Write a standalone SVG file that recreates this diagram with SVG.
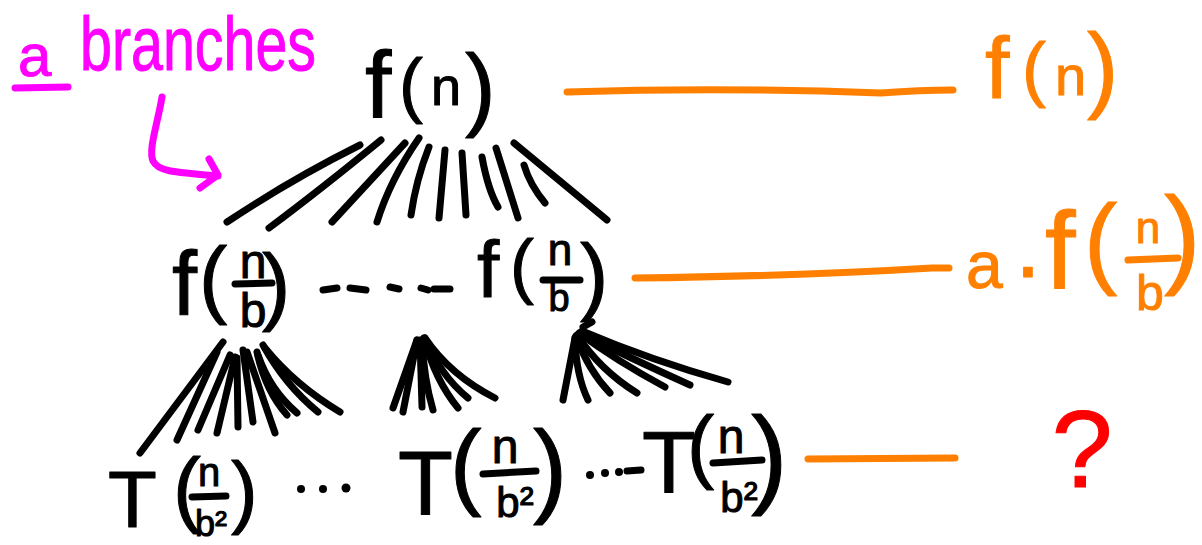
<svg xmlns="http://www.w3.org/2000/svg" width="1202" height="545" viewBox="0 0 1202 545">
<style>
.ink{fill:none;stroke:#000;stroke-width:7;stroke-linecap:round;stroke-linejoin:round}
.or{fill:none;stroke:#ff8000;stroke-width:7;stroke-linecap:round;stroke-linejoin:round}
.mg{fill:none;stroke:#ff00ff;stroke-width:7;stroke-linecap:round;stroke-linejoin:round}
text{font-family:"Liberation Sans",Arial,sans-serif;stroke-linejoin:round;stroke-width:1}
.tb{fill:#000;stroke:#000}
.to{fill:#ff8000;stroke:#ff8000}
.tm{fill:#ff00ff;stroke:#ff00ff}
.tr{fill:#ff0000;stroke:#ff0000}
.c{text-anchor:middle}
.dot{fill:#000}
</style>
<rect width="1202" height="545" fill="#fff"/>

<g id="annotation-branches">
  <text class="tm"><tspan x="18" y="76" font-size="60">a</tspan><tspan x="80" y="70" font-size="76" textLength="236" lengthAdjust="spacingAndGlyphs">branches</tspan></text>
  <line class="mg" x1="15" y1="88" x2="68" y2="87"/>
  <path class="mg" d="M162,97 C158,122 148,150 153,161 C158,171 170,172 218,176 M209,159 L218,175 L200,188"/>
</g>

<g id="node-root">
  <text class="tb"><tspan x="365" y="118" font-size="95">f</tspan><tspan x="399" y="109" font-size="72">(</tspan><tspan x="431" y="105" font-size="54">n</tspan><tspan x="465" y="119" font-size="92">)</tspan></text>
</g>

<g id="node-l2-left">
  <text class="tb"><tspan x="172" y="315" font-size="90">f</tspan><tspan x="199" y="307" font-size="85">(</tspan><tspan class="c" x="253" y="278" font-size="48">n</tspan><tspan class="c" x="253" y="327" font-size="48">b</tspan><tspan x="262" y="314" font-size="85">)</tspan></text>
  <line class="ink" x1="235" y1="284" x2="272" y2="283"/>
</g>

<g id="dashes-l2">
  <path class="ink" d="M323,290 L337,288 M350,288 L366,290 M390,287 L399,289 M421,288 L428,290 M434,289 L450,289"/>
</g>

<g id="node-l2-right">
  <text class="tb"><tspan x="477" y="297" font-size="80">f</tspan><tspan x="510" y="290" font-size="72">(</tspan><tspan class="c" x="560" y="265" font-size="44">n</tspan><tspan class="c" x="559" y="311" font-size="38">b</tspan><tspan x="580" y="304" font-size="85">)</tspan></text>
  <line class="ink" x1="543" y1="280" x2="580" y2="280"/>
</g>

<g id="node-l3-1">
  <text class="tb"><tspan x="108" y="527" font-size="80">T</tspan><tspan x="173" y="517" font-size="84">(</tspan><tspan class="c" x="209" y="486" font-size="40">n</tspan><tspan class="c" x="211" y="536" font-size="36">b²</tspan><tspan x="231" y="518" font-size="80">)</tspan></text>
  <line class="ink" x1="192" y1="497" x2="226" y2="496"/>
</g>

<g id="dots-l3-a">
  <circle class="dot" cx="301" cy="489" r="4"/>
  <circle class="dot" cx="323" cy="489" r="4"/>
  <circle class="dot" cx="346" cy="488" r="4.5"/>
</g>

<g id="node-l3-2">
  <text class="tb"><tspan x="398" y="515" font-size="90">T</tspan><tspan x="450" y="497" font-size="95">(</tspan><tspan class="c" x="505" y="463" font-size="48">n</tspan><tspan class="c" x="515" y="517" font-size="42">b²</tspan><tspan x="533" y="503" font-size="103">)</tspan></text>
  <line class="ink" x1="483" y1="474" x2="536" y2="471"/>
</g>

<g id="dots-l3-b">
  <circle class="dot" cx="590" cy="475" r="4"/>
  <circle class="dot" cx="605" cy="473" r="4"/>
  <circle class="dot" cx="619" cy="472" r="4"/>
  <line class="ink" x1="627" y1="471" x2="641" y2="470"/>
</g>

<g id="node-l3-3">
  <text class="tb"><tspan x="642" y="492" font-size="88">T</tspan><tspan x="687" y="473" font-size="82">(</tspan><tspan class="c" x="731" y="453" font-size="48">n</tspan><tspan class="c" x="739" y="512" font-size="42">b²</tspan><tspan x="751" y="493" font-size="110">)</tspan></text>
  <line class="ink" x1="713" y1="463" x2="762" y2="460"/>
</g>

<g id="sum-level0">
  <text class="to"><tspan x="985" y="98" font-size="88">f</tspan><tspan x="1022" y="93" font-size="72">(</tspan><tspan x="1055" y="95" font-size="56">n</tspan><tspan x="1087" y="100" font-size="94">)</tspan></text>
</g>

<g id="sum-level1">
  <text class="to"><tspan x="966" y="288" font-size="66">a</tspan><tspan x="1013" y="297" font-size="90">·</tspan><tspan x="1045" y="288" font-size="110">f</tspan><tspan x="1084" y="275" font-size="100">(</tspan><tspan class="c" x="1148" y="243" font-size="44">n</tspan><tspan class="c" x="1150" y="310" font-size="50">b</tspan><tspan x="1164" y="273" font-size="110">)</tspan></text>
  <line class="or" x1="1128" y1="260" x2="1178" y2="258"/>
</g>

<g id="sum-level2">
  <text class="tr c" x="1082" y="487" font-size="110">?</text>
</g>

<g id="connectors">
  <g id="fan-root">
    <path class="ink" d="M360,145 Q290,180 227,222"/>
    <path class="ink" d="M381,140 Q320,190 269,228"/>
    <path class="ink" d="M405,143 L332,222"/>
    <path class="ink" d="M419,138 Q390,180 377,222"/>
    <path class="ink" d="M429,147 Q416,180 411,215"/>
    <path class="ink" d="M445,150 L439,218"/>
    <path class="ink" d="M462,153 L466,215"/>
    <path class="ink" d="M482,157 Q488,190 498,207"/>
    <path class="ink" d="M496,148 L518,218"/>
    <path class="ink" d="M514,143 L607,220"/>
    <path class="ink" d="M524,165 Q530,185 545,203"/>
  </g>
  <g id="fan-left">
    <path class="ink" d="M223,342 L140,453"/>
    <path class="ink" d="M217,352 L177,440"/>
    <path class="ink" d="M230,355 L198,430"/>
    <path class="ink" d="M235,357 L217,433"/>
    <path class="ink" d="M237,358 L238,427"/>
    <path class="ink" d="M243,350 L253,422"/>
    <path class="ink" d="M247,352 L275,433"/>
    <path class="ink" d="M257,352 Q265,390 287,415"/>
    <path class="ink" d="M258,355 Q270,390 297,413"/>
    <path class="ink" d="M263,345 Q285,385 318,412"/>
    <path class="ink" d="M265,348 Q295,385 340,412"/>
  </g>
  <g id="fan-middle">
    <path class="ink" d="M417,340 L393,408"/>
    <path class="ink" d="M417,340 L403,412"/>
    <path class="ink" d="M420,340 L422,407"/>
    <path class="ink" d="M422,340 Q424,380 433,410"/>
    <path class="ink" d="M424,338 Q435,380 458,408"/>
    <path class="ink" d="M425,338 Q440,375 468,398"/>
    <path class="ink" d="M425,338 Q450,375 495,398"/>
  </g>
  <g id="fan-right">
    <path class="ink" d="M583,327 L592,322"/>
    <path class="ink" d="M575,338 L563,400"/>
    <path class="ink" d="M575,338 Q576,375 588,400"/>
    <path class="ink" d="M576,336 Q588,370 610,393"/>
    <path class="ink" d="M577,335 Q600,370 637,393"/>
    <path class="ink" d="M579,333 Q615,360 665,387"/>
    <path class="ink" d="M580,333 Q630,358 690,385"/>
    <path class="ink" d="M582,331 Q650,360 728,382"/>
  </g>
  <g id="level-links">
    <path class="or" d="M567,92 Q720,87 881,93 Q920,90 953,90"/>
    <path class="or" d="M635,278 Q800,276 932,268 L949,268"/>
    <path class="or" d="M808,459 L955,458"/>
  </g>
</g>
</svg>
